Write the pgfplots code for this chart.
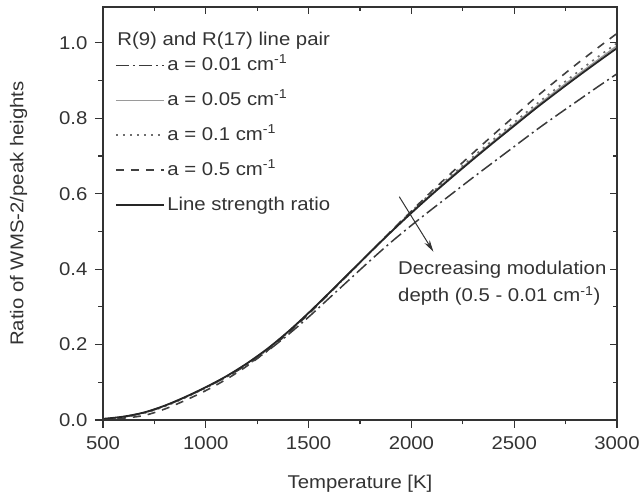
\documentclass[border=0pt]{standalone}
\usepackage{fontspec}
\setmainfont{Liberation Sans}[FakeStretch=1.1]
\usepackage{pgfplots}
\pgfplotsset{compat=1.18}
\usepackage{pgfplotstable}
\usetikzlibrary{arrows.meta}

\definecolor{axgray}{HTML}{333333}
\definecolor{c001}{HTML}{3A3A3A}
\definecolor{c005}{HTML}{9A9A9A}
\definecolor{c01}{HTML}{6E6E6E}
\definecolor{c05}{HTML}{404040}
\tikzset{myfont/.style={font=\fontsize{18.5}{22}\selectfont}}

\pgfplotstableread{
T v
500 0.003
600 0.009
700 0.020
800 0.038
900 0.061
1000 0.087
1100 0.116
1200 0.150
1300 0.189
1400 0.234
1500 0.284
1600 0.337
1700 0.391
1800 0.445
1900 0.498
2000 0.549
2100 0.598
2200 0.645
2300 0.691
2400 0.736
2500 0.780
2600 0.824
2700 0.866
2800 0.907
2900 0.947
3000 0.986
}\lsr

\pgfplotstableread{
T v
500 0.003
600 0.009
700 0.020
800 0.038
900 0.061
1000 0.087
1100 0.116
1200 0.150
1300 0.189
1400 0.234
1500 0.284
1600 0.337
1700 0.391
1800 0.445
1900 0.499
2000 0.551
2100 0.600
2200 0.648
2300 0.694
2400 0.739
2500 0.784
2600 0.828
2700 0.871
2800 0.912
2900 0.952
3000 0.992
}\afive

\pgfplotstableread{
T v
500 0.002
600 0.007
700 0.018
800 0.036
900 0.059
1000 0.085
1100 0.114
1200 0.148
1300 0.187
1400 0.232
1500 0.282
1600 0.336
1700 0.390
1800 0.445
1900 0.500
2000 0.553
2100 0.603
2200 0.651
2300 0.698
2400 0.744
2500 0.789
2600 0.834
2700 0.877
2800 0.919
2900 0.960
3000 0.999
}\aten

\pgfplotstableread{
T v
500 0.001
600 0.005
700 0.012
800 0.029
900 0.052
1000 0.078
1100 0.108
1200 0.143
1300 0.184
1400 0.230
1500 0.281
1600 0.335
1700 0.390
1800 0.445
1900 0.500
2000 0.554
2100 0.607
2200 0.658
2300 0.708
2400 0.757
2500 0.805
2600 0.853
2700 0.898
2800 0.942
2900 0.984
3000 1.025
}\ahalf

\pgfplotstableread{
T v
500 0.002
600 0.008
700 0.019
800 0.037
900 0.060
1000 0.086
1100 0.114
1200 0.146
1300 0.183
1400 0.226
1500 0.273
1600 0.323
1700 0.373
1800 0.423
1900 0.471
2000 0.516
2100 0.559
2200 0.601
2300 0.643
2400 0.684
2500 0.725
2600 0.766
2700 0.805
2800 0.843
2900 0.881
3000 0.918
}\aone

\begin{document}
\begin{tikzpicture}
\begin{axis}[
  scale only axis,
  width=514pt, height=413pt,
  xmin=500, xmax=3000,
  ymin=0, ymax=1.095,
  xtick={500,1000,...,3000},
  ytick={0,0.2,...,1.0},
  minor x tick num=1,
  minor y tick num=1,
  xtick pos=left, ytick pos=left,
  tick align=outside,
  major tick length=8pt,
  minor tick length=4.5pt,
  axis line style={axgray, line width=1.3pt},
  every tick/.style={axgray, line width=1.1pt},
  /pgf/number format/assume math mode=true,
  yticklabel style={/pgf/number format/fixed, /pgf/number format/fixed zerofill, /pgf/number format/precision=1, myfont, text=axgray, xshift=-4pt},
  xticklabel style={/pgf/number format/1000 sep={}, myfont, text=axgray, yshift=-5pt},
  scaled y ticks=false,
  xlabel={Temperature [K]},
  ylabel={Ratio of WMS-2/peak heights},
  label style={myfont, text=axgray},
  xlabel style={yshift=-19pt},
  ylabel style={yshift=25pt},
  legend cell align=left,
  legend image code/.code={\draw[#1] (0pt,0pt) -- (48pt,0pt);},
  legend style={draw=none, fill=none, at={(0.023,0.972)}, anchor=north west,
    inner sep=0pt, column sep=0pt, row sep=12pt, myfont, text=axgray,
    nodes={inner sep=2.5pt, text height=14pt, text depth=4pt}},
]
\addlegendimage{empty legend}
\addlegendentry{\hspace*{-50pt}\raisebox{-10pt}{R(9) and R(17) line pair}}

\addplot[c001, line width=1.5pt, smooth, dash pattern=on 13pt off 4pt on 2pt off 4pt] table[x=T,y=v]{\aone};
\addlegendentry{a = 0.01 cm\textsuperscript{-1}}

\addplot[c005, line width=1.4pt, smooth] table[x=T,y=v]{\afive};
\addlegendentry{a = 0.05 cm\textsuperscript{-1}}

\addplot[c01, line width=1.7pt, smooth, dash pattern=on 2pt off 5pt] table[x=T,y=v]{\aten};
\addlegendentry{a = 0.1 cm\textsuperscript{-1}}

\addplot[c05, line width=1.6pt, smooth, dash pattern=on 8pt off 7pt] table[x=T,y=v]{\ahalf};
\addlegendentry{a = 0.5 cm\textsuperscript{-1}}

\addplot[black!85, line width=1.8pt, smooth] table[x=T,y=v]{\lsr};
\addlegendentry{Line strength ratio}

\draw[axgray, line width=1pt, -{Stealth[length=12pt,width=6pt]}] (axis cs:1941,0.592) -- (axis cs:2107,0.446);
\node[anchor=west, align=left, myfont, text=axgray, inner sep=0pt] at (axis cs:1935,0.363) {Decreasing modulation\\[5pt]depth (0.5 - 0.01 cm\textsuperscript{-1})};

\coordinate (tl) at (rel axis cs:0,1);
\coordinate (br) at (rel axis cs:1,0);
\end{axis}
\begin{axis}[
  scale only axis,
  width=514pt, height=413pt,
  xmin=500, xmax=3000,
  ymin=0, ymax=1.095,
  xtick={500,1000,...,3000},
  ytick={0,0.2,...,1.0},
  minor x tick num=1,
  minor y tick num=1,
  xtick pos=right, ytick pos=right,
  tick align=inside,
  major tick length=7pt,
  minor tick length=4pt,
  axis line style={axgray, line width=1.3pt},
  every tick/.style={axgray, line width=1.1pt},
  xticklabels={}, yticklabels={},
]
\end{axis}
\path (tl) ++(-103pt,7pt);
\path (br) ++(26pt,-75pt);
\end{tikzpicture}
\end{document}
